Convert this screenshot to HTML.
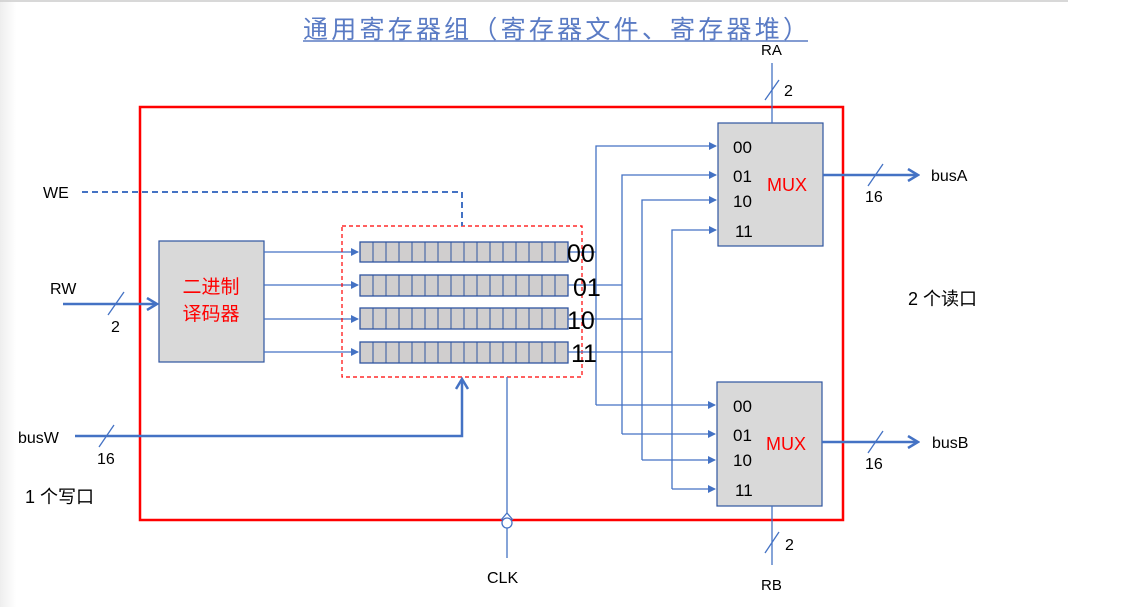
<!DOCTYPE html>
<html><head><meta charset="utf-8"><style>
html,body{margin:0;padding:0;background:#fff;}
svg{display:block;}
text{font-family:"Liberation Sans","Noto Sans CJK SC",sans-serif;}
</style></head><body>
<svg width="1124" height="607" viewBox="0 0 1124 607" xmlns="http://www.w3.org/2000/svg">
<defs>
<linearGradient id="lg" x1="0" x2="1"><stop offset="0" stop-color="#eee"/><stop offset="1" stop-color="#fff"/></linearGradient>
<marker id="a" markerWidth="8" markerHeight="8" refX="7" refY="4" orient="auto" markerUnits="userSpaceOnUse"><path d="M0,0 L8,4 L0,8 z" fill="#4472c4"/></marker>
<marker id="b" markerWidth="14" markerHeight="14" refX="12" refY="7" orient="auto" markerUnits="userSpaceOnUse"><path d="M2,1 L12,7 L2,13" fill="none" stroke="#4472c4" stroke-width="2.5"/></marker>
</defs>
<rect x="0" y="0" width="16" height="607" fill="url(#lg)"/>
<line x1="0" y1="1" x2="1068" y2="1" stroke="#ccc" stroke-width="1.5"/>
<text x="303" y="38" font-size="25" fill="#5a7bc4" font-family="'Noto Serif CJK SC',serif" textLength="505">通用寄存器组（寄存器文件、寄存器堆）</text>
<line x1="303" y1="41" x2="808" y2="41" stroke="#5a7bc4" stroke-width="1.5"/>

<rect x="140" y="107" width="703" height="413" fill="none" stroke="#f00" stroke-width="2.5"/>

<!-- decoder -->
<rect x="159" y="241" width="105" height="121" fill="#d9d9d9" stroke="#2f55a0" stroke-width="1.2"/>
<text x="211" y="293" font-size="19" fill="#f00" text-anchor="middle">二进制</text>
<text x="211" y="320" font-size="19" fill="#f00" text-anchor="middle">译码器</text>

<g stroke="#4472c4" stroke-width="1.3" fill="none">
<line x1="264" y1="252" x2="358" y2="252" marker-end="url(#a)"/>
<line x1="264" y1="285" x2="358" y2="285" marker-end="url(#a)"/>
<line x1="264" y1="319" x2="358" y2="319" marker-end="url(#a)"/>
<line x1="264" y1="352" x2="358" y2="352" marker-end="url(#a)"/>
</g>

<rect x="342" y="226" width="240" height="151" fill="none" stroke="#f00" stroke-width="1.2" stroke-dasharray="4,3"/>

<!-- registers -->
<g id="regs" fill="#d0cece" stroke="#2f55a0" stroke-width="1.3">
<rect x="360" y="242" width="208" height="20"/>
<rect x="360" y="275" width="208" height="21"/>
<rect x="360" y="308" width="208" height="21"/>
<rect x="360" y="342" width="208" height="21"/>
</g>
<g stroke="#2f55a0" stroke-width="1">
<path d="M373,242V262M386,242V262M399,242V262M412,242V262M425,242V262M438,242V262M451,242V262M464,242V262M477,242V262M490,242V262M503,242V262M516,242V262M529,242V262M542,242V262M555,242V262"/>
<path d="M373,275V296M386,275V296M399,275V296M412,275V296M425,275V296M438,275V296M451,275V296M464,275V296M477,275V296M490,275V296M503,275V296M516,275V296M529,275V296M542,275V296M555,275V296"/>
<path d="M373,308V329M386,308V329M399,308V329M412,308V329M425,308V329M438,308V329M451,308V329M464,308V329M477,308V329M490,308V329M503,308V329M516,308V329M529,308V329M542,308V329M555,308V329"/>
<path d="M373,342V363M386,342V363M399,342V363M412,342V363M425,342V363M438,342V363M451,342V363M464,342V363M477,342V363M490,342V363M503,342V363M516,342V363M529,342V363M542,342V363M555,342V363"/>
</g>

<!-- buses to MUX -->
<g stroke="#4472c4" stroke-width="1.3" fill="none">
<path d="M568,252H596"/><path d="M568,285H622"/><path d="M568,319H642"/><path d="M568,352H672"/>
<path d="M596,405V146H716" marker-end="url(#a)"/>
<path d="M622,434V175H716" marker-end="url(#a)"/>
<path d="M642,460V200H716" marker-end="url(#a)"/>
<path d="M672,489V230H716" marker-end="url(#a)"/>
<path d="M596,405H715" marker-end="url(#a)"/>
<path d="M622,434H715" marker-end="url(#a)"/>
<path d="M642,460H715" marker-end="url(#a)"/>
<path d="M672,489H715" marker-end="url(#a)"/>
</g>
<g font-size="25" fill="#000">
<text x="567" y="262">00</text><text x="573" y="296">01</text><text x="567" y="329">10</text><text x="571" y="362">11</text>
</g>

<!-- MUXes -->
<rect x="718" y="123" width="105" height="123" fill="#d9d9d9" stroke="#2f55a0" stroke-width="1.2"/>
<rect x="717" y="382" width="105" height="124" fill="#d9d9d9" stroke="#2f55a0" stroke-width="1.2"/>
<g font-size="17" fill="#000">
<text x="733" y="153">00</text><text x="733" y="182">01</text><text x="733" y="207">10</text><text x="735" y="237">11</text>
<text x="733" y="412">00</text><text x="733" y="441">01</text><text x="733" y="466">10</text><text x="735" y="496">11</text>
</g>
<text x="767" y="191" font-size="18" fill="#f00">MUX</text>
<text x="766" y="450" font-size="18" fill="#f00">MUX</text>

<!-- outputs -->
<g stroke="#4472c4" stroke-width="2.5" fill="none">
<line x1="823" y1="175" x2="918" y2="175" marker-end="url(#b)"/>
<line x1="822" y1="442" x2="918" y2="442" marker-end="url(#b)"/>
<line x1="63" y1="304" x2="157" y2="304" marker-end="url(#b)"/>
<path d="M75,436H462V379" marker-end="url(#b)"/>
</g>
<g stroke="#4472c4" stroke-width="1.3">
<line x1="868" y1="186" x2="883" y2="164"/>
<line x1="868" y1="453" x2="883" y2="431"/>
<line x1="108" y1="315" x2="124" y2="292"/>
<line x1="99" y1="447" x2="114" y2="425"/>
<line x1="772" y1="63" x2="772" y2="123"/>
<line x1="765" y1="100" x2="779" y2="80"/>
<line x1="772" y1="506" x2="772" y2="565"/>
<line x1="765" y1="553" x2="779" y2="532"/>
<line x1="507" y1="377" x2="507" y2="513"/>
<line x1="507" y1="528" x2="507" y2="558"/>
</g>
<path d="M82,192H462V226" fill="none" stroke="#4472c4" stroke-width="2" stroke-dasharray="6,4"/>
<path d="M501,520 L507,513 L513,520" fill="none" stroke="#4472c4" stroke-width="1.3"/>
<circle cx="507" cy="523" r="5" fill="#fff" stroke="#4472c4" stroke-width="1.3"/>

<g font-size="16" fill="#000">
<text x="931" y="181">busA</text>
<text x="932" y="448">busB</text>
<text x="865" y="202">16</text>
<text x="865" y="469">16</text>
<text x="761" y="55" font-size="15">RA</text>
<text x="784" y="96">2</text>
<text x="761" y="590" font-size="15">RB</text>
<text x="785" y="550">2</text>
<text x="43" y="198">WE</text>
<text x="50" y="294">RW</text>
<text x="111" y="332">2</text>
<text x="18" y="443">busW</text>
<text x="97" y="464">16</text>
<text x="487" y="583">CLK</text>
<text x="25" y="503" font-size="18">1 个写口</text>
<text x="908" y="305" font-size="18">2 个读口</text>
</g>
</svg>
</body></html>
